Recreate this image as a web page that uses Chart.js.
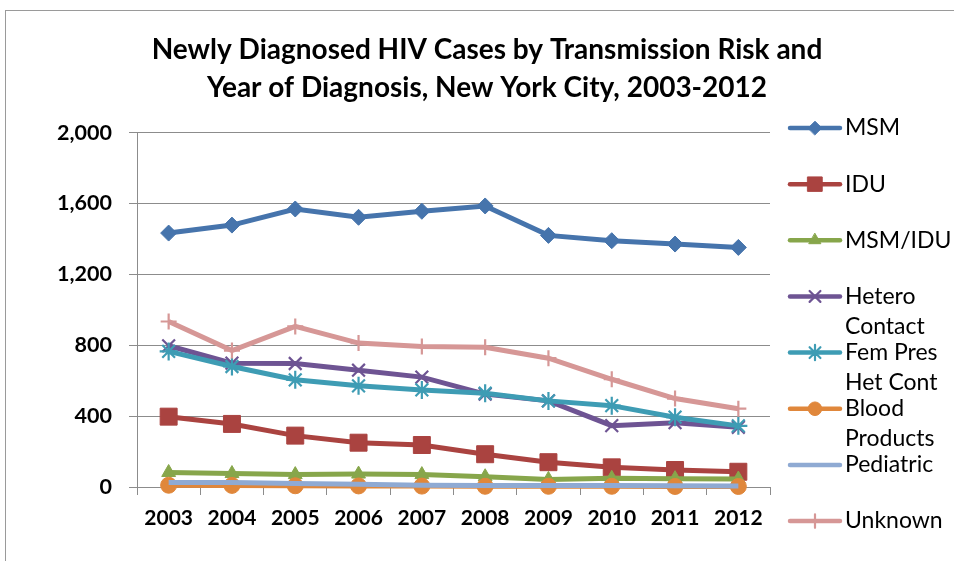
<!DOCTYPE html>
<html>
<head>
<meta charset="utf-8">
<script src="https://cdn.jsdelivr.net/npm/chart.js@4"></script>
<style>
  html, body { margin: 0; padding: 0; background: #fff; }
  #wrap { position: absolute; left: 0; top: 0; width: 954px; height: 561px; }
  #frame { position: absolute; left: 5px; top: 10px; width: 949px; height: 551px;
            border-top: 1px solid #9a9a9a; border-left: 1px solid #9a9a9a; }
  #chartHiv { position: absolute; left: 0; top: 0; }
</style>
</head>
<body>
<div id="wrap">
  <div id="frame"></div>
  <canvas id="chartHiv" width="954" height="561"></canvas>
</div>
<script>
// donnees
const years = ['2003', '2004', '2005', '2006', '2007', '2008', '2009', '2010', '2011', '2012'];
const yTicks = [0, 400, 800, 1200, 1600, 2000];
const titleLines = ['Newly Diagnosed HIV Cases by Transmission Risk and', 'Year of Diagnosis, New York City, 2003-2012'];

const seriesNames = ['MSM', 'IDU', 'MSM/IDU', 'Hetero\nContact', 'Fem Pres\nHet Cont', 'Blood\nProducts', 'Pediatric', 'Unknown'];
const msm      = [1433, 1478, 1569, 1522, 1556, 1586, 1420, 1390, 1371, 1352];
const idu      = [397, 356, 290, 250, 237, 185, 140, 111, 96, 86];
const msmIdu   = [82, 76, 70, 73, 70, 58, 43, 49, 47, 45];
const hetero   = [797, 699, 697, 659, 620, 524, 486, 346, 363, 337];
const femPres  = [765, 680, 605, 571, 548, 529, 486, 459, 394, 345];
const blood    = [10, 9, 7, 6, 5, 4, 4, 4, 3, 3];
const pediatric = [25, 25, 20, 15, 10, 9, 8, 8, 7, 6];
const unknown  = [934, 770, 906, 812, 793, 789, 727, 608, 499, 442];

const seriesValues = [msm, idu, msmIdu, hetero, femPres, blood, pediatric, unknown];
const seriesColors = ['#4674AC', '#AA4340', '#87A64B', '#6E5493', '#3E9CB4', '#E0873B', '#8FAAD3', '#D69796'];
const seriesMarkers = ['rectRot', 'rect', 'triangle', 'crossRot', 'star', 'circle', false, 'cross'];
const markerSizes = [8, 12, 8, 9, 9, 8, 0, 8];

const gridGray = '#8c8c8c';

const datasets = seriesValues.map(function (vals, i) {
  const cross = ['crossRot', 'star', 'cross'].includes(seriesMarkers[i]);
  return {
    label: seriesNames[i],
    data: vals,
    borderColor: seriesColors[i],
    backgroundColor: seriesColors[i],
    borderWidth: 5,
    tension: 0,
    pointStyle: seriesMarkers[i],
    pointRadius: markerSizes[i],
    pointHoverRadius: markerSizes[i],
    pointBackgroundColor: seriesColors[i],
    pointBorderColor: seriesColors[i],
    pointBorderWidth: cross ? 2.2 : 1,
    order: 10 - i, // les dernieres series par dessus
    clip: false
  };
});

// legende dessinee a la main (texte sur deux lignes)
const sideLegend = {
  id: 'sideLegend',
  afterDraw(chart) {
    const ctx = chart.ctx;
    const x1 = 790, x2 = 840, tx = 845, y0 = 128, gap = 56.15, lineGap = 30;
    ctx.save();
    chart.data.datasets.forEach(function (ds, i) {
      const y = y0 + i * gap;
      ctx.strokeStyle = ds.borderColor;
      ctx.fillStyle = ds.borderColor;
      ctx.lineWidth = 4.5;
      ctx.lineCap = 'round';
      ctx.beginPath();
      ctx.moveTo(x1, y);
      ctx.lineTo(x2, y);
      ctx.stroke();
      if (ds.pointStyle && Chart.helpers && Chart.helpers.drawPoint) {
        ctx.lineWidth = ds.pointBorderWidth;
        Chart.helpers.drawPoint(ctx, {
          pointStyle: ds.pointStyle,
          radius: ds.pointRadius * 0.85,
          borderWidth: ds.pointBorderWidth,
          rotation: 0
        }, (x1 + x2) / 2, y);
      }
      ctx.fillStyle = '#000';
      ctx.font = '23px Lato';
      ctx.textBaseline = 'middle';
      ctx.textAlign = 'left';
      ds.label.split('\n').forEach(function (line, k) {
        ctx.fillText(line, tx, y + k * lineGap);
      });
    });
    ctx.restore();
  }
};

const chart1 = document.getElementById('chartHiv').getContext('2d');
const chartHiv = new Chart(chart1, {
  type: 'line',
  data: {
    labels: years,
    datasets: datasets
  },
  plugins: [sideLegend],
  options: {
    responsive: false,
    animation: false,
    layout: { padding: { left: 20, top: 0, right: 0, bottom: 0 } },
    plugins: {
      legend: { display: false },
      tooltip: { enabled: false },
      title: {
        display: true,
        text: titleLines,
        color: '#000',
        font: { family: 'Lato', size: 28, weight: 'bold', lineHeight: 1.35 },
        padding: { top: 31, bottom: 26 }
      }
    },
    scales: {
      x: {
        offset: true,
        afterFit: function (s) { s.height = 74; },
        grid: { drawOnChartArea: false, offset: true, tickLength: 8, color: gridGray },
        border: { color: gridGray, width: 1 },
        ticks: { color: '#000', padding: 11, font: { family: 'Lato', size: 21, weight: 'bold' } }
      },
      y: {
        min: 0,
        max: 2000,
        afterFit: function (s) { s.width = 117; },
        afterBuildTicks: function (s) { s.ticks = yTicks.map(v => ({ value: v })); },
        grid: { color: gridGray, tickLength: 8, lineWidth: 1 },
        border: { color: gridGray, width: 1 },
        ticks: {
          color: '#000',
          padding: 17,
          font: { family: 'Lato', size: 21.5, weight: 'bold' },
          callback: function (v) { return Number(v).toLocaleString('en-US'); }
        }
      },
      yRight: {
        position: 'right',
        display: true,
        afterFit: function (s) { s.width = 184; },
        grid: { display: false },
        border: { display: false },
        ticks: { display: false }
      }
    }
  }
});
</script>
</body>
</html>
